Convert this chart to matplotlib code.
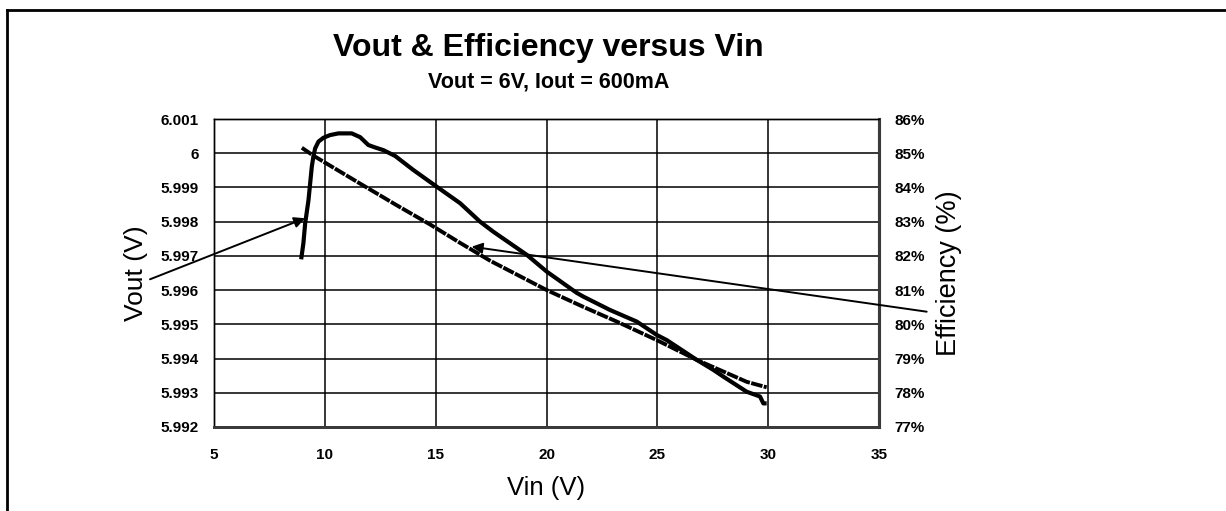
import matplotlib.pyplot as plt
from matplotlib.lines import Line2D

# Vout & Efficiency versus Vin  (Vout = 6V, Iout = 600mA)

# Vout curve
vin_vout = [8.93, 9.03, 9.11, 9.26, 9.41, 9.48, 9.56, 9.71, 9.93, 10.23, 10.61,
            11.21, 11.59, 11.96, 12.26, 12.64, 13.17, 13.99, 15.05, 16.10, 17.00,
            17.59, 19.11, 20.01, 21.36, 21.66, 22.86, 24.07, 24.97, 25.42, 26.78,
            27.52, 27.98, 29.03, 29.63, 29.78, 29.93]
vout = [5.99690, 5.99737, 5.99795, 5.99863, 5.99961, 5.99990, 6.00014, 6.00034,
        6.00045, 6.00053, 6.00058, 6.00058, 6.00047, 6.00024, 6.00017, 6.00009,
        5.99992, 5.99951, 5.99902, 5.99854, 5.99800, 5.99771, 5.99703, 5.99654,
        5.99592, 5.99581, 5.99542, 5.99508, 5.99469, 5.99454, 5.99396, 5.99367,
        5.99347, 5.99303, 5.99289, 5.99269, 5.99269]

# Efficiency curve
vin_eff = [8.96, 9.48, 11.44, 13.24, 14.74, 16.10, 17.45, 20.01, 21.66, 23.17,
           24.97, 26.78, 27.98, 29.03, 29.93]
eff = [85.16, 84.93, 84.17, 83.48, 82.92, 82.38, 81.86, 81.00, 80.51, 80.08,
       79.54, 78.96, 78.62, 78.32, 78.16]

vout_ticks = [5.992, 5.993, 5.994, 5.995, 5.996, 5.997, 5.998, 5.999, 6.000, 6.001]
vout_labels = ["5.992", "5.993", "5.994", "5.995", "5.996", "5.997", "5.998",
               "5.999", "6", "6.001"]
eff_ticks = [77, 78, 79, 80, 81, 82, 83, 84, 85, 86]
eff_labels = [str(t) + "%" for t in eff_ticks]
vin_ticks = [5, 10, 15, 20, 25, 30, 35]

plt.rcParams["font.family"] = ["Liberation Sans", "DejaVu Sans"]

fig = plt.figure(figsize=(12.26, 5.11), dpi=100)
ax = fig.add_axes([0.1746, 0.1644, 0.5424, 0.6027])
ax2 = ax.twinx()

# left axis: Vout
ax.plot(vin_vout, vout, color="black", lw=3.0, solid_capstyle="butt",
        solid_joinstyle="round")
ax.set_xlim(5, 35)
ax.set_ylim(5.992, 6.001)
ax.set_xticks(vin_ticks)
ax.set_yticks(vout_ticks)
ax.set_yticklabels(vout_labels)
ax.grid(True, color="black", lw=1.1)
ax.set_axisbelow(True)
ax.tick_params(axis="both", length=0, labelsize=11)
ax.tick_params(axis="y", pad=11)
ax.tick_params(axis="x", pad=15)
for lab in ax.get_xticklabels() + ax.get_yticklabels():
    lab.set_fontweight("bold")

# right axis: Efficiency
ax2.plot(vin_eff, eff, color="black", lw=2.8, dashes=(3.0, 0.35))
ax2.set_ylim(77, 86)
ax2.set_yticks(eff_ticks)
ax2.set_yticklabels(eff_labels)
ax2.tick_params(axis="y", length=0, labelsize=11, pad=11)
for lab in ax2.get_yticklabels():
    lab.set_fontweight("bold")

# spines
for a in (ax, ax2):
    a.spines["left"].set_color("black")
    a.spines["left"].set_linewidth(1.0)
    a.spines["top"].set_color("black")
    a.spines["top"].set_linewidth(1.0)
    a.spines["right"].set_color("#3a3a3a")
    a.spines["right"].set_linewidth(2.2)
    a.spines["bottom"].set_color("#3a3a3a")
    a.spines["bottom"].set_linewidth(2.0)

# titles and axis labels
fig.text(0.4475, 0.906, "Vout & Efficiency versus Vin", ha="center", va="center",
         fontsize=23, fontweight="bold")
fig.text(0.4475, 0.840, "Vout = 6V, Iout = 600mA", ha="center", va="center",
         fontsize=15.5, fontweight="bold")
fig.text(0.4457, 0.045, "Vin (V)", ha="center", va="center", fontsize=18.5)
fig.text(0.1110, 0.466, "Vout (V)", ha="center", va="center", fontsize=19,
         rotation=90)
fig.text(0.7740, 0.466, "Efficiency (%)", ha="center", va="center", fontsize=19.5,
         rotation=90)

# arrows from labels to curves
ax.annotate("", xy=(9.105, 5.99810), xycoords="data",
            xytext=(150, 231.7), textcoords="figure pixels",
            arrowprops=dict(arrowstyle="-|>", color="black", lw=1.4,
                            mutation_scale=16, shrinkA=0, shrinkB=0))
ax2.annotate("", xy=(16.62, 82.27), xycoords="data",
             xytext=(926.7, 199.3), textcoords="figure pixels",
             arrowprops=dict(arrowstyle="-|>", color="black", lw=1.4,
                             mutation_scale=16, shrinkA=0, shrinkB=0))

# outer frame (left and top edges)
fig.add_artist(Line2D([0.0061, 0.0061], [0.0, 0.9795], color="black", lw=2.0,
                      transform=fig.transFigure))
fig.add_artist(Line2D([0.0061, 1.0], [0.9795, 0.9795], color="black", lw=2.0,
                      transform=fig.transFigure))

plt.savefig("out.png", dpi=100)
plt.close()
